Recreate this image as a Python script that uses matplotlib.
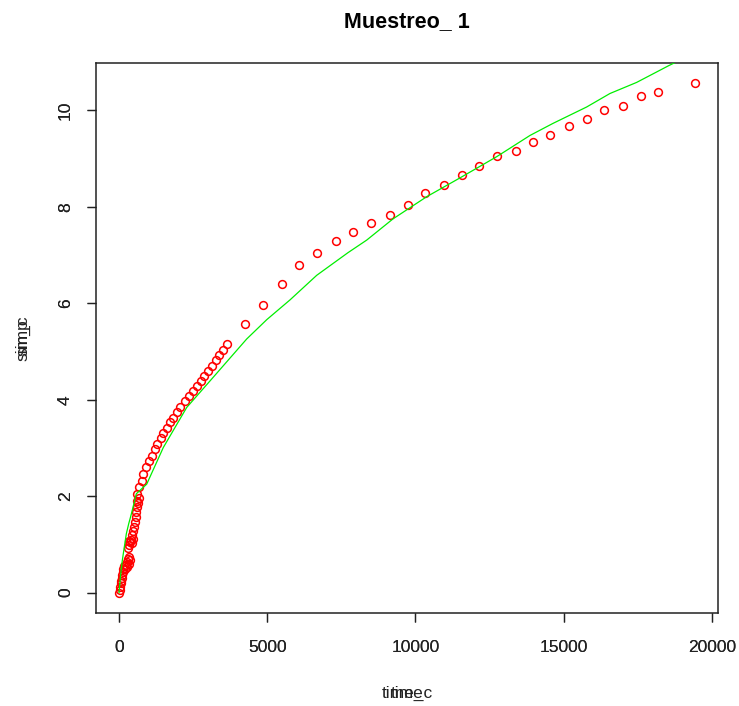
import matplotlib
matplotlib.use("Agg")
import matplotlib.pyplot as plt

plt.rcParams['font.family'] = ['Liberation Sans', 'DejaVu Sans']

# muestreo 1: measured points (s, value)
time = [0, 17, 34, 51, 67, 84, 101, 118, 135, 169,
        202, 236, 270, 304, 337, 270, 337, 371,
        304, 337, 371, 405, 438, 472, 337,
        422, 455, 489, 523, 556, 583, 607, 641, 675,
        597, 617, 685, 766, 820, 911, 1022, 1103, 1214, 1292,
        1406, 1494, 1629, 1720, 1811, 1946, 2057, 2226, 2361, 2496,
        2621, 2755, 2867, 3002, 3126, 3272, 3373, 3508, 3632,
        4250, 4847, 5487, 6071, 6668, 7309, 7902, 8499, 9140, 9737,
        10320, 10961, 11558, 12142, 12739, 13379, 13953, 14536, 15187, 15784,
        16368, 17008, 17605, 18189, 19427]
simp = [0.00, 0.06, 0.12, 0.19, 0.25, 0.31, 0.37, 0.43, 0.50, 0.56,
        0.50, 0.58, 0.64, 0.70, 0.74, 0.54, 0.60, 0.68,
        0.93, 0.99, 1.05, 1.10, 1.03, 1.12, 1.07,
        1.20, 1.28, 1.36, 1.47, 1.57, 1.67, 1.78, 1.86, 1.96,
        1.91, 2.05, 2.18, 2.32, 2.46, 2.61, 2.73, 2.84, 2.98, 3.08,
        3.20, 3.30, 3.42, 3.53, 3.63, 3.75, 3.85, 3.97, 4.08, 4.18,
        4.28, 4.39, 4.49, 4.59, 4.70, 4.83, 4.92, 5.04, 5.16,
        5.58, 5.97, 6.39, 6.79, 7.05, 7.29, 7.48, 7.67, 7.84, 8.04,
        8.29, 8.46, 8.66, 8.85, 9.05, 9.15, 9.35, 9.48, 9.68, 9.83,
        10.00, 10.10, 10.30, 10.39, 10.56]

# fitted curve
time_c = [0, 57, 111, 169, 246, 327, 415, 583, 934, 1494,
          2283, 3069, 4307, 4982, 5767, 6668, 7724, 8354, 9241, 10378,
          11501, 12739, 13862, 14637, 15773, 16560, 17460, 18550, 19427]
sim_c = [0.00, 0.39, 0.67, 0.91, 1.22, 1.43, 1.63, 2.05, 2.25, 3.01,
         3.84, 4.39, 5.26, 5.66, 6.07, 6.58, 7.05, 7.31, 7.75, 8.21,
         8.60, 9.04, 9.48, 9.73, 10.07, 10.35, 10.58, 10.93, 11.19]


def r_range(v):
    lo, hi = min(v), max(v)
    pad = 0.04 * (hi - lo)
    return lo - pad, hi + pad


xlim = r_range(time)
ylim = r_range(simp)

fig = plt.figure(figsize=(7.39, 7.06), dpi=100)
pos = [96 / 739, 1 - 613 / 706, 622 / 739, 550 / 706]


def style(ax, xlabel, ylabel):
    ax.set_xlim(*xlim)
    ax.set_ylim(*ylim)
    ax.set_xticks([0, 5000, 10000, 15000, 20000])
    ax.set_yticks([0, 2, 4, 6, 8, 10])
    ax.tick_params(direction='out', length=6.5, width=0.9, labelsize=12.5,
                   color='#222222', labelcolor='#222222')
    ax.tick_params(axis='x', pad=13)
    ax.tick_params(axis='y', pad=10)
    for lab in ax.get_yticklabels():
        lab.set_rotation(90)
        lab.set_va('center')
    ax.set_xlabel(xlabel, fontsize=12.5, labelpad=22, color='#222222')
    ax.set_ylabel(ylabel, fontsize=12.5, labelpad=20, color='#222222')


ax = fig.add_axes(pos)
ax.plot(time, simp, 'o', ms=5.6, mfc='none', mec='red', mew=1.1)
style(ax, 'time', 'simp')
for s in ax.spines.values():
    s.set_linewidth(1.1)
    s.set_color('#222222')
ax.set_title('Muestreo_ 1', fontsize=15.5, fontweight='bold', pad=26)

# second plot on top, same scales
ax2 = fig.add_axes(pos)
ax2.patch.set_visible(False)
ax2.plot(time_c, sim_c, color='#00ee00', lw=0.9)
style(ax2, 'time_c', 'sim_c')
for s in ax2.spines.values():
    s.set_visible(False)

fig.savefig('out.png', dpi=100)
